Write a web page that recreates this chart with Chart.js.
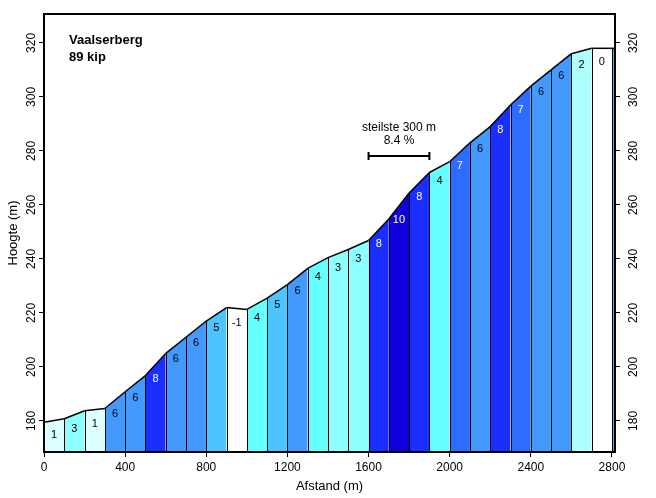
<!DOCTYPE html>
<html>
<head>
<meta charset="utf-8">
<script src="https://cdn.jsdelivr.net/npm/chart.js@4.4.0/dist/chart.umd.min.js"></script>
<style>
    html, body { margin: 0; padding: 0; background: #fff; }
</style>
</head>
<body>
<canvas id="chart" width="656" height="498"></canvas>
<script>
// Profile data (distance in m, elevation in m)
const distances = [0, 100, 200, 300, 400, 500, 600, 700, 800, 900, 1000, 1100, 1200, 1300, 1400,
    1500, 1600, 1700, 1800, 1900, 2000, 2100, 2200, 2300, 2400, 2500, 2600, 2700, 2800, 2815];
const elevations = [179.5, 180.8, 183.8, 184.6, 190.8, 196.8, 205, 211, 217, 222, 221.3, 225.5, 230.5,
    236.5, 240.5, 243.5, 246.8, 254.8, 264.4, 272, 276, 283, 289, 297, 304, 310, 316, 318, 318, 318];
// gradient label per 100 m segment (null = last short piece, no label)
const grades = [1, 3, 1, 6, 6, 8, 6, 6, 5, -1, 4, 5, 6, 4, 3, 3, 8, 10, 8, 4, 7, 6, 8, 7, 6, 6, 2, 0, null];

const xTicks = [0, 400, 800, 1200, 1600, 2000, 2400, 2800];
const yTicks = [180, 200, 220, 240, 260, 280, 300, 320];

const climbName = "Vaalserberg";
const climbScore = "89 kip";
const steepText = "steilste 300 m";
const steepGrade = "8.4 %";
const steepFrom = 1600;
const steepTo = 1900;
const steepLevel = 278;

const gradeColors = {
    "-1": "#ffffff", "0": "#ffffff", "1": "#dcffff", "2": "#b0ffff", "3": "#8cffff",
    "4": "#66ffff", "5": "#4dc3ff", "6": "#4499ff", "7": "#2e6bff", "8": "#1a2eff", "10": "#1000dd"
};
const tailColor = "#5aa6d8";
const FONT = "'Liberation Sans', Arial, sans-serif";

const datasets = grades.map((g, i) => ({
    data: [{ x: distances[i], y: elevations[i] }, { x: distances[i + 1], y: elevations[i + 1] }],
    backgroundColor: g === null ? tailColor : gradeColors[String(g)],
    borderColor: "#000",
    borderWidth: 1.5,
    fill: "start",
    pointRadius: 0,
    tension: 0
}));

const profileExtras = {
    id: "profileExtras",
    afterDatasetsDraw(chart) {
        const ctx = chart.ctx;
        const xs = chart.scales.x;
        const ys = chart.scales.y;
        const area = chart.chartArea;
        ctx.save();

        // vertical segment separators
        ctx.strokeStyle = "#000";
        ctx.lineWidth = 1;
        for (let i = 1; i < distances.length - 1; i++) {
            const px = Math.round(xs.getPixelForValue(distances[i])) + 0.5;
            ctx.beginPath();
            ctx.moveTo(px, area.bottom);
            ctx.lineTo(px, ys.getPixelForValue(elevations[i]));
            ctx.stroke();
        }

        // gradient labels
        ctx.font = "11px " + FONT;
        ctx.textAlign = "center";
        ctx.textBaseline = "middle";
        grades.forEach((g, i) => {
            if (g === null) return;
            const cx = (xs.getPixelForValue(distances[i]) + xs.getPixelForValue(distances[i + 1])) / 2;
            const cy = (ys.getPixelForValue(elevations[i]) + ys.getPixelForValue(elevations[i + 1])) / 2 + 14;
            ctx.fillStyle = g >= 7 ? "#fff" : "#000";
            ctx.fillText(String(g), cx, cy);
        });

        // steepest part marker
        const x0 = xs.getPixelForValue(steepFrom);
        const x1 = xs.getPixelForValue(steepTo);
        const yb = Math.round(ys.getPixelForValue(steepLevel));
        ctx.strokeStyle = "#000";
        ctx.lineWidth = 2;
        ctx.beginPath();
        ctx.moveTo(x0, yb); ctx.lineTo(x1, yb);
        ctx.moveTo(x0, yb - 4); ctx.lineTo(x0, yb + 4);
        ctx.moveTo(x1, yb - 4); ctx.lineTo(x1, yb + 4);
        ctx.stroke();
        ctx.fillStyle = "#000";
        ctx.font = "12px " + FONT;
        ctx.fillText(steepText, (x0 + x1) / 2, yb - 28);
        ctx.fillText(steepGrade, (x0 + x1) / 2, yb - 15);

        // name and score
        ctx.font = "bold 13px " + FONT;
        ctx.textAlign = "left";
        ctx.fillText(climbName, area.left + 25, area.top + 26);
        ctx.fillText(climbScore, area.left + 25, area.top + 43);

        // frame
        ctx.lineWidth = 2;
        ctx.strokeRect(area.left, area.top, area.right - area.left, area.bottom - area.top);
        ctx.restore();
    }
};

const tickFont = { family: FONT, size: 12 };
const titleFont = { family: FONT, size: 13 };
const yAxis = (pos, width, pad) => ({
    type: "linear",
    position: pos,
    min: 168.5,
    max: 330.7,
    afterBuildTicks: s => { s.ticks = yTicks.map(v => ({ value: v })); },
    afterFit: s => { s.width = width; },
    ticks: { color: "#000", font: tickFont, minRotation: 90, maxRotation: 90, crossAlign: "center", padding: pad,
        callback: v => String(v) },
    grid: { drawOnChartArea: false, drawTicks: true, tickLength: 5, color: "#000" },
    border: { display: true, color: "#000", width: 2 }
});

const leftAxis = yAxis("left", 44, -3);
leftAxis.title = { display: true, text: "Hoogte (m)", color: "#000", font: titleFont, padding: { top: 6, bottom: 0 } };
const rightAxis = yAxis("right", 41, 4);

new Chart(document.getElementById("chart"), {
    type: "line",
    data: { datasets: datasets },
    options: {
        responsive: false,
        animation: false,
        layout: { padding: { top: 14, left: 0, right: 0, bottom: 0 } },
        plugins: { legend: { display: false }, tooltip: { enabled: false } },
        scales: {
            x: {
                type: "linear",
                min: 0,
                max: 2815,
                afterBuildTicks: s => { s.ticks = xTicks.map(v => ({ value: v })); },
                afterFit: s => { s.height = 46; },
                ticks: { color: "#000", font: tickFont, maxRotation: 0, padding: 3, callback: v => String(v) },
                grid: { drawOnChartArea: false, drawTicks: true, tickLength: 5, color: "#000" },
                border: { display: true, color: "#000", width: 2 },
                title: { display: true, text: "Afstand (m)", color: "#000", font: titleFont, padding: { top: 2, bottom: 4 } }
            },
            y: leftAxis,
            y2: rightAxis
        }
    },
    plugins: [profileExtras]
});
</script>
</body>
</html>
